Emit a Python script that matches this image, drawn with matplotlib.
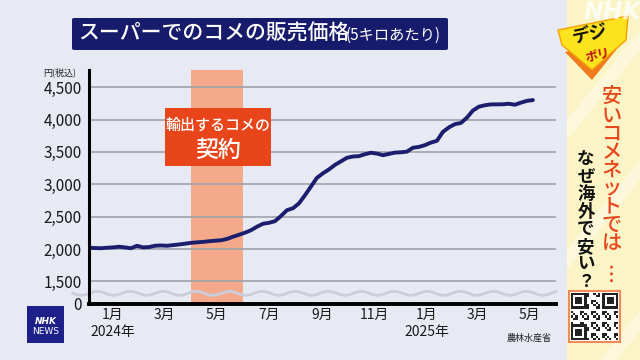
import numpy as np
import pandas as pd
import matplotlib
matplotlib.use("Agg")
import matplotlib.pyplot as plt
from matplotlib.patches import Rectangle, Polygon, FancyBboxPatch

plt.rcParams['font.family'] = ['Noto Sans CJK JP', 'DejaVu Sans']

# ---------------- data ----------------
week_start = "2023-12-04"
prices = [2020, 2015, 2012, 2020, 2025, 2035, 2025, 2012, 2050, 2025,
          2030, 2050, 2055, 2050, 2060, 2070, 2082, 2095, 2103, 2110,
          2120, 2128, 2135, 2155, 2190, 2220, 2252, 2290, 2345, 2390,
          2405, 2430, 2510, 2600, 2630, 2705, 2830, 2965, 3100, 3170,
          3230, 3300, 3355, 3410, 3430, 3435, 3465, 3488, 3475, 3450,
          3470, 3490, 3495, 3505, 3565, 3578, 3605, 3645, 3672, 3810,
          3880, 3930, 3948, 4030, 4140, 4200, 4222, 4235, 4236, 4237,
          4245, 4230, 4262, 4290, 4302]
dates = pd.date_range(week_start, periods=len(prices), freq="7D")

tick_dates = ["2024-01-01", "2024-03-01", "2024-05-01", "2024-07-01", "2024-09-01",
              "2024-11-01", "2025-01-01", "2025-03-01", "2025-05-01"]
tick_labels = ["1月\n2024年", "3月", "5月", "7月", "9月", "11月", "1月\n2025年", "3月", "5月"]
y_ticks = [0, 1500, 2000, 2500, 3000, 3500, 4000, 4500]
y_labels = ["0", "1,500", "2,000", "2,500", "3,000", "3,500", "4,000", "4,500"]
band_start, band_end = "2024-04-01", "2024-06-01"
band_label = "輸出するコメの"
band_label2 = "契約"

title_main = "スーパーでのコメの販売価格"
title_sub = "(5キロあたり)"
unit_label = "円(税込)"
source = "農林水産省"
side_red = "安いコメネットでは"
side_red_end = "…"
side_black = "なぜ海外で安い？"

# ---------------- style ----------------
W, H = 640, 360
BG = "#e7eaf3"
NAVY = "#1b1e6c"
ORANGE = "#e8461a"
BAND = "#f4a98b"

fig = plt.figure(figsize=(6.4, 3.6), dpi=100)
fig.patch.set_facecolor(BG)

def fx(x): return x / W
def fy(y): return 1 - y / H

# axes
L, R, T, B = 89, 556, 70, 304
ax = fig.add_axes([fx(L), fy(B), (R - L) / W, (B - T) / H])
ax.set_facecolor(BG)

def fwd(v):
    v = np.asarray(v, float)
    return np.where(v >= 1500, v, 1150 + v * 350 / 1500)

def inv(y):
    y = np.asarray(y, float)
    return np.where(y >= 1500, y, (y - 1150) * 1500 / 350)

ax.set_yscale("function", functions=(fwd, inv))
ax.set_ylim(0, 4767)
ax.set_xlim(pd.Timestamp("2023-12-04"), pd.Timestamp("2025-06-01"))

ax.axvspan(pd.Timestamp(band_start), pd.Timestamp(band_end), color=BAND, zorder=1, lw=0)

for v in y_ticks[1:]:
    ax.axhline(v, color="#9ea2ab", lw=1.2, zorder=2)

# wavy break line
xs = np.linspace(-0.035, 1.0, 400)
ys = 0.0457 + 0.0085 * np.sin(2 * np.pi * (xs * (R - L)) / 33.0)
ax.plot(xs, ys, transform=ax.transAxes, color="#c9cedb", lw=2.0, zorder=3, clip_on=False)

ax.plot(dates, prices, color=NAVY, lw=2.8, zorder=4, solid_capstyle="round", solid_joinstyle="round")

ax.set_yticks(y_ticks)
ax.set_yticklabels(y_labels)
ax.set_xticks([pd.Timestamp(d) for d in tick_dates])
ax.set_xticklabels(tick_labels, linespacing=1.3)
ax.tick_params(axis="y", length=0, pad=5, labelsize=11, labelcolor="#1a1a1a")
ax.tick_params(axis="x", length=0, pad=3, labelsize=10, labelcolor="#1a1a1a")
ax.minorticks_off()
for s in ["top", "right"]:
    ax.spines[s].set_visible(False)
ax.spines["left"].set_linewidth(2.2)
ax.spines["bottom"].set_linewidth(2.8)
ax.spines["left"].set_zorder(5)
ax.spines["bottom"].set_zorder(5)

fig.text(fx(60), fy(74), unit_label, fontsize=6.5, ha="center", va="center", color="#222")
fig.text(fx(552), fy(338), source, fontsize=6.5, ha="right", va="center", color="#222")

# band label box
fig.patches.append(Rectangle((fx(165), fy(166)), (271 - 165) / W, (166 - 108) / H,
                             transform=fig.transFigure, fc=ORANGE, ec="none", zorder=6))
fig.text(fx(218), fy(125), band_label, fontsize=10.8, ha="center", va="center",
         color="white", zorder=7, fontweight="medium")
fig.text(fx(218), fy(150), band_label2, fontsize=16.5, ha="center", va="center",
         color="white", zorder=7, fontweight="medium")

# title box
fig.patches.append(FancyBboxPatch((fx(72), fy(50)), (448 - 72) / W, (50 - 18) / H,
                                  boxstyle="round,pad=0,rounding_size=0.004",
                                  transform=fig.transFigure, fc="#161b6b", ec="none"))
fig.text(fx(78), fy(34), title_main, fontsize=15, ha="left", va="center", color="white",
         fontweight="medium")
fig.text(fx(441), fy(35), title_sub, fontsize=11, ha="right", va="center", color="white")

# right panel
fig.patches.append(Rectangle((fx(567), 0), (W - 567) / W, 1, transform=fig.transFigure,
                             fc="#fbf4c6", ec="none"))
for (x0, y0) in [(567, 120), (567, 250), (600, 360)]:
    fig.patches.append(Polygon([(fx(x0), fy(y0)), (fx(x0 + 73), fy(y0 - 90)),
                                (fx(x0 + 73), fy(y0 - 70)), (fx(x0), fy(y0 + 20))],
                               transform=fig.transFigure, fc="#fffbe4", ec="none", alpha=0.7))

# logo
fig.patches.append(Polygon([(fx(565), fy(52)), (fx(592), fy(80)), (fx(620), fy(45)), (fx(600), fy(45)),
                            (fx(592), fy(58)), (fx(580), fy(48))],
                           transform=fig.transFigure, fc="#f07a1e", ec="none"))
fig.patches.append(Polygon([(fx(558), fy(30)), (fx(628), fy(16)), (fx(626), fy(40)),
                            (fx(592), fy(70)), (fx(562), fy(45))],
                           transform=fig.transFigure, fc="#fde21e", ec="#f5a000", lw=1))
fig.text(fx(590), fy(34), "デジ", fontsize=13, fontweight="bold", ha="center", va="center",
         rotation=12, color="#111")
fig.text(fx(598), fy(56), "ボリ", fontsize=9, fontweight="bold", ha="center", va="center",
         rotation=12, color="#c01010")
fig.text(fx(612), fy(12), "NHK", fontsize=17, fontweight="bold", style="italic",
         ha="center", va="center", color="white", alpha=0.75, family="DejaVu Sans")

fig.text(fx(612), fy(88), "\n".join(side_red), fontsize=14.5, ha="center", va="top",
         color=ORANGE, linespacing=0.95, fontweight="medium")
fig.text(fx(612), fy(272), side_red_end, fontsize=14.5, ha="center", va="center",
         color=ORANGE, rotation=90, fontweight="bold")
fig.text(fx(586), fy(150), "\n".join(side_black), fontsize=12.5, fontweight="bold",
         ha="center", va="top", color="#111", linespacing=0.97)

# QR-like box
qx0, qy0, qs = 571, 293, 47
fig.patches.append(Rectangle((fx(qx0 - 2), fy(qy0 + qs + 2)), (qs + 4) / W, (qs + 4) / H,
                             transform=fig.transFigure, fc="white", ec="#f08a5a", lw=1.5))
n = 21
cell = qs / n
for i in range(n):
    for j in range(n):
        on = ((i * 7 + j * 13 + i * j) % 5) < 2
        fin = (i < 7 and j < 7) or (i < 7 and j >= n - 7) or (i >= n - 7 and j < 7)
        if fin:
            a = i if i < 7 else i - (n - 7)
            b = j if j < 7 else j - (n - 7)
            on = a in (0, 6) or b in (0, 6) or (2 <= a <= 4 and 2 <= b <= 4)
        if on:
            fig.patches.append(Rectangle((fx(qx0 + j * cell), fy(qy0 + (i + 1) * cell)),
                                         cell / W, cell / H, transform=fig.transFigure,
                                         fc="#222", ec="none"))

# NHK NEWS logo
fig.patches.append(Rectangle((fx(27), fy(343)), 37 / W, 37 / H, transform=fig.transFigure,
                             fc="#1d2088", ec="none"))
fig.text(fx(45.5), fy(321), "NHK", fontsize=6.5, fontweight="bold", style="italic",
         ha="center", va="center", color="white", family="DejaVu Sans")
fig.text(fx(45.5), fy(331), "NEWS", fontsize=6.5, ha="center", va="center", color="white",
         family="DejaVu Sans")

fig.savefig("out.png", dpi=100, facecolor=BG)
